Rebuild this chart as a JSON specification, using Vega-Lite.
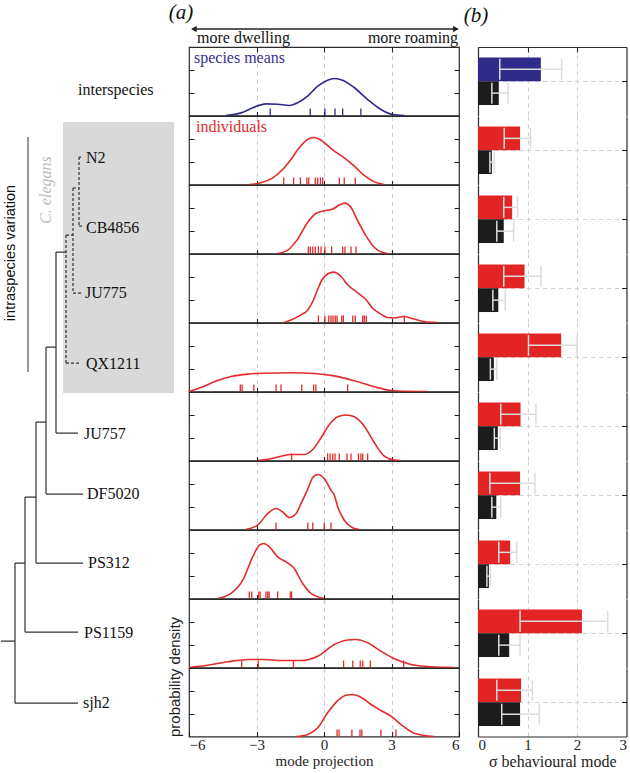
{
  "$schema": "https://vega.github.io/schema/vega-lite/v6.json",
  "padding": 0,
  "background": "white",
  "columns": 3,
  "spacing": {"row": 0, "column": 19},
  "bounds": "flush",
  "align": "each",
  "datasets": {
    "density": [
      {"s":"interspecies","x":-4.36,"d":0},{"s":"interspecies","x":-3.69,"d":0.023},{"s":"interspecies","x":-3.17,"d":0.067},{"s":"interspecies","x":-2.58,"d":0.102},{"s":"interspecies","x":-2.06,"d":0.099},{"s":"interspecies","x":-1.54,"d":0.088},{"s":"interspecies","x":-1.17,"d":0.111},{"s":"interspecies","x":-0.73,"d":0.169},{"s":"interspecies","x":-0.28,"d":0.257},{"s":"interspecies","x":0.16,"d":0.309},{"s":"interspecies","x":0.46,"d":0.324},{"s":"interspecies","x":0.83,"d":0.309},{"s":"interspecies","x":1.35,"d":0.243},{"s":"interspecies","x":1.94,"d":0.14},{"s":"interspecies","x":2.53,"d":0.053},{"s":"interspecies","x":3.05,"d":0.009},{"s":"interspecies","x":3.57,"d":0},
      {"s":"N2","x":-3.32,"d":0},{"s":"N2","x":-2.8,"d":0.015},{"s":"N2","x":-2.28,"d":0.058},{"s":"N2","x":-1.84,"d":0.131},{"s":"N2","x":-1.47,"d":0.219},{"s":"N2","x":-1.1,"d":0.321},{"s":"N2","x":-0.73,"d":0.394},{"s":"N2","x":-0.43,"d":0.412},{"s":"N2","x":-0.13,"d":0.388},{"s":"N2","x":0.16,"d":0.342},{"s":"N2","x":0.46,"d":0.292},{"s":"N2","x":0.9,"d":0.234},{"s":"N2","x":1.35,"d":0.161},{"s":"N2","x":1.79,"d":0.079},{"s":"N2","x":2.24,"d":0.023},{"s":"N2","x":2.68,"d":0},
      {"s":"CB4856","x":-2.06,"d":0},{"s":"CB4856","x":-1.61,"d":0.03},{"s":"CB4856","x":-1.17,"d":0.126},{"s":"CB4856","x":-0.73,"d":0.272},{"s":"CB4856","x":-0.36,"d":0.35},{"s":"CB4856","x":0.01,"d":0.374},{"s":"CB4856","x":0.39,"d":0.389},{"s":"CB4856","x":0.68,"d":0.424},{"s":"CB4856","x":0.93,"d":0.441},{"s":"CB4856","x":1.2,"d":0.403},{"s":"CB4856","x":1.5,"d":0.286},{"s":"CB4856","x":1.87,"d":0.155},{"s":"CB4856","x":2.24,"d":0.053},{"s":"CB4856","x":2.61,"d":0.009},{"s":"CB4856","x":2.83,"d":0},
      {"s":"JU775","x":-1.76,"d":0},{"s":"JU775","x":-1.02,"d":0.067},{"s":"JU775","x":-0.72,"d":0.11},{"s":"JU775","x":-0.5,"d":0.184},{"s":"JU775","x":-0.3,"d":0.28},{"s":"JU775","x":-0.1,"d":0.37},{"s":"JU775","x":0.16,"d":0.425},{"s":"JU775","x":0.43,"d":0.441},{"s":"JU775","x":0.76,"d":0.403},{"s":"JU775","x":1.05,"d":0.33},{"s":"JU775","x":1.5,"d":0.26},{"s":"JU775","x":1.87,"d":0.2},{"s":"JU775","x":2.16,"d":0.125},{"s":"JU775","x":2.39,"d":0.09},{"s":"JU775","x":2.83,"d":0.044},{"s":"JU775","x":3.12,"d":0.04},{"s":"JU775","x":3.54,"d":0.053},{"s":"JU775","x":4.01,"d":0.03},{"s":"JU775","x":4.61,"d":0.003},{"s":"JU775","x":5.05,"d":0},
      {"s":"QX1211","x":-6,"d":0},{"s":"QX1211","x":-5.47,"d":0.035},{"s":"QX1211","x":-4.88,"d":0.085},{"s":"QX1211","x":-4.13,"d":0.131},{"s":"QX1211","x":-3.39,"d":0.152},{"s":"QX1211","x":-2.65,"d":0.16},{"s":"QX1211","x":-1.47,"d":0.164},{"s":"QX1211","x":-0.43,"d":0.158},{"s":"QX1211","x":0.46,"d":0.137},{"s":"QX1211","x":1.35,"d":0.094},{"s":"QX1211","x":2.24,"d":0.041},{"s":"QX1211","x":2.98,"d":0.009},{"s":"QX1211","x":3.72,"d":0.002},{"s":"QX1211","x":4.61,"d":0},
      {"s":"JU757","x":-2.95,"d":0},{"s":"JU757","x":-2.36,"d":0.015},{"s":"JU757","x":-1.91,"d":0.038},{"s":"JU757","x":-1.47,"d":0.053},{"s":"JU757","x":-0.87,"d":0.053},{"s":"JU757","x":-0.5,"d":0.096},{"s":"JU757","x":-0.13,"d":0.199},{"s":"JU757","x":0.24,"d":0.315},{"s":"JU757","x":0.61,"d":0.383},{"s":"JU757","x":0.98,"d":0.398},{"s":"JU757","x":1.35,"d":0.383},{"s":"JU757","x":1.79,"d":0.301},{"s":"JU757","x":2.24,"d":0.155},{"s":"JU757","x":2.68,"d":0.038},{"s":"JU757","x":3.13,"d":0.003},{"s":"JU757","x":3.4,"d":0},
      {"s":"DF5020","x":-3.47,"d":0},{"s":"DF5020","x":-2.95,"d":0.038},{"s":"DF5020","x":-2.5,"d":0.14},{"s":"DF5020","x":-2.13,"d":0.184},{"s":"DF5020","x":-1.84,"d":0.155},{"s":"DF5020","x":-1.54,"d":0.105},{"s":"DF5020","x":-1.24,"d":0.14},{"s":"DF5020","x":-1.02,"d":0.228},{"s":"DF5020","x":-0.75,"d":0.34},{"s":"DF5020","x":-0.5,"d":0.455},{"s":"DF5020","x":-0.28,"d":0.482},{"s":"DF5020","x":0.01,"d":0.447},{"s":"DF5020","x":0.31,"d":0.344},{"s":"DF5020","x":0.46,"d":0.3},{"s":"DF5020","x":0.61,"d":0.199},{"s":"DF5020","x":0.9,"d":0.081},{"s":"DF5020","x":1.27,"d":0.015},{"s":"DF5020","x":1.57,"d":0},
      {"s":"PS312","x":-4.72,"d":0},{"s":"PS312","x":-4.13,"d":0.044},{"s":"PS312","x":-3.61,"d":0.16},{"s":"PS312","x":-3.17,"d":0.365},{"s":"PS312","x":-2.87,"d":0.467},{"s":"PS312","x":-2.68,"d":0.482},{"s":"PS312","x":-2.43,"d":0.453},{"s":"PS312","x":-2.06,"d":0.365},{"s":"PS312","x":-1.69,"d":0.321},{"s":"PS312","x":-1.32,"d":0.263},{"s":"PS312","x":-0.95,"d":0.131},{"s":"PS312","x":-0.58,"d":0.044},{"s":"PS312","x":-0.13,"d":0.006},{"s":"PS312","x":0.01,"d":0},
      {"s":"PS1159","x":-6,"d":0},{"s":"PS1159","x":-5.17,"d":0.02},{"s":"PS1159","x":-4.28,"d":0.05},{"s":"PS1159","x":-3.39,"d":0.07},{"s":"PS1159","x":-2.65,"d":0.07},{"s":"PS1159","x":-1.91,"d":0.061},{"s":"PS1159","x":-1.02,"d":0.061},{"s":"PS1159","x":-0.28,"d":0.099},{"s":"PS1159","x":0.46,"d":0.201},{"s":"PS1159","x":0.98,"d":0.239},{"s":"PS1159","x":1.42,"d":0.245},{"s":"PS1159","x":1.94,"d":0.216},{"s":"PS1159","x":2.53,"d":0.143},{"s":"PS1159","x":3.13,"d":0.076},{"s":"PS1159","x":3.87,"d":0.026},{"s":"PS1159","x":4.76,"d":0.006},{"s":"PS1159","x":5.79,"d":0},
      {"s":"sjh2","x":-1.24,"d":0},{"s":"sjh2","x":-0.72,"d":0.018},{"s":"sjh2","x":-0.28,"d":0.076},{"s":"sjh2","x":0.16,"d":0.208},{"s":"sjh2","x":0.61,"d":0.315},{"s":"sjh2","x":0.98,"d":0.362},{"s":"sjh2","x":1.27,"d":0.368},{"s":"sjh2","x":1.64,"d":0.344},{"s":"sjh2","x":2.09,"d":0.28},{"s":"sjh2","x":2.53,"d":0.228},{"s":"sjh2","x":2.98,"d":0.178},{"s":"sjh2","x":3.42,"d":0.105},{"s":"sjh2","x":4.01,"d":0.029},{"s":"sjh2","x":4.9,"d":0}
    ],
    "rug": [
      {"s":"interspecies","x":-2.39},{"s":"interspecies","x":-0.61},{"s":"interspecies","x":0.04},{"s":"interspecies","x":0.49},{"s":"interspecies","x":0.83},{"s":"interspecies","x":1.64},
      {"s":"N2","x":-1.79},{"s":"N2","x":-1.35},{"s":"N2","x":-1.05},{"s":"N2","x":-0.76},{"s":"N2","x":-0.68},{"s":"N2","x":-0.39},{"s":"N2","x":-0.28},{"s":"N2","x":-0.16},{"s":"N2","x":-0.06},{"s":"N2","x":0.68},{"s":"N2","x":0.9},{"s":"N2","x":1.39},
      {"s":"CB4856","x":-0.7},{"s":"CB4856","x":-0.61},{"s":"CB4856","x":-0.5},{"s":"CB4856","x":-0.39},{"s":"CB4856","x":-0.25},{"s":"CB4856","x":-0.13},{"s":"CB4856","x":0.04},{"s":"CB4856","x":0.34},{"s":"CB4856","x":0.83},{"s":"CB4856","x":0.93},{"s":"CB4856","x":1.2},{"s":"CB4856","x":1.42},
      {"s":"JU775","x":-0.25},{"s":"JU775","x":0.04},{"s":"JU775","x":0.21},{"s":"JU775","x":0.31},{"s":"JU775","x":0.4},{"s":"JU775","x":0.5},{"s":"JU775","x":0.58},{"s":"JU775","x":0.79},{"s":"JU775","x":0.86},{"s":"JU775","x":1.28},{"s":"JU775","x":1.39},{"s":"JU775","x":1.72},{"s":"JU775","x":1.79},{"s":"JU775","x":1.88},{"s":"JU775","x":3.57},
      {"s":"QX1211","x":-3.72},{"s":"QX1211","x":-3.64},{"s":"QX1211","x":-3.12},{"s":"QX1211","x":-2.13},{"s":"QX1211","x":-1.91},{"s":"QX1211","x":-0.99},{"s":"QX1211","x":-0.46},{"s":"QX1211","x":-0.36},{"s":"QX1211","x":1.05},
      {"s":"JU757","x":-1.44},{"s":"JU757","x":0.16},{"s":"JU757","x":0.27},{"s":"JU757","x":0.39},{"s":"JU757","x":0.49},{"s":"JU757","x":0.68},{"s":"JU757","x":1.02},{"s":"JU757","x":1.2},{"s":"JU757","x":1.53},{"s":"JU757","x":1.64},{"s":"JU757","x":1.72},{"s":"JU757","x":1.94},
      {"s":"DF5020","x":-2.13},{"s":"DF5020","x":-0.72},{"s":"DF5020","x":-0.5},{"s":"DF5020","x":0.01},{"s":"DF5020","x":0.31},
      {"s":"PS312","x":-3.32},{"s":"PS312","x":-3.21},{"s":"PS312","x":-2.9},{"s":"PS312","x":-2.84},{"s":"PS312","x":-2.58},{"s":"PS312","x":-2.5},{"s":"PS312","x":-2.44},{"s":"PS312","x":-2.06},{"s":"PS312","x":-1.5},{"s":"PS312","x":-1.44},
      {"s":"PS1159","x":-3.66},{"s":"PS1159","x":-2.92},{"s":"PS1159","x":-1.36},{"s":"PS1159","x":0.87},{"s":"PS1159","x":1.28},{"s":"PS1159","x":1.61},{"s":"PS1159","x":1.72},{"s":"PS1159","x":2.06},{"s":"PS1159","x":3.54},
      {"s":"sjh2","x":0.58},{"s":"sjh2","x":0.67},{"s":"sjh2","x":1.24},{"s":"sjh2","x":1.6},{"s":"sjh2","x":1.68},{"s":"sjh2","x":2.53},{"s":"sjh2","x":3.2}
    ],
    "bars": [
      {"s":"interspecies","scope":"across","level":"species","v":1.27,"lo":0.44,"hi":1.69},
      {"s":"interspecies","scope":"within","level":"within","v":0.42,"lo":0.28,"hi":0.61},
      {"s":"N2","scope":"across","level":"individual","v":0.85,"lo":0.53,"hi":1.06},
      {"s":"N2","scope":"within","level":"within","v":0.28,"lo":0.24,"hi":0.33},
      {"s":"CB4856","scope":"across","level":"individual","v":0.69,"lo":0.52,"hi":0.8},
      {"s":"CB4856","scope":"within","level":"within","v":0.52,"lo":0.38,"hi":0.72},
      {"s":"JU775","scope":"across","level":"individual","v":0.94,"lo":0.52,"hi":1.27},
      {"s":"JU775","scope":"within","level":"within","v":0.41,"lo":0.3,"hi":0.55},
      {"s":"QX1211","scope":"across","level":"individual","v":1.68,"lo":1.02,"hi":2.0},
      {"s":"QX1211","scope":"within","level":"within","v":0.32,"lo":0.25,"hi":0.38},
      {"s":"JU757","scope":"across","level":"individual","v":0.86,"lo":0.46,"hi":1.17},
      {"s":"JU757","scope":"within","level":"within","v":0.4,"lo":0.33,"hi":0.45},
      {"s":"DF5020","scope":"across","level":"individual","v":0.85,"lo":0.24,"hi":1.15},
      {"s":"DF5020","scope":"within","level":"within","v":0.37,"lo":0.28,"hi":0.46},
      {"s":"PS312","scope":"across","level":"individual","v":0.65,"lo":0.42,"hi":0.78},
      {"s":"PS312","scope":"within","level":"within","v":0.22,"lo":0.18,"hi":0.25},
      {"s":"PS1159","scope":"across","level":"individual","v":2.1,"lo":0.85,"hi":2.62},
      {"s":"PS1159","scope":"within","level":"within","v":0.63,"lo":0.42,"hi":0.85},
      {"s":"sjh2","scope":"across","level":"individual","v":0.87,"lo":0.38,"hi":1.1},
      {"s":"sjh2","scope":"within","level":"within","v":0.85,"lo":0.48,"hi":1.24}
    ],
    "tree": [
      {"x":0,"x2":1.4,"y":8.672,"y2":8.672,"line":"solid"},
      {"x":1.4,"x2":1.4,"y":7.533,"y2":9.577,"line":"solid"},
      {"x":1.4,"x2":7.7,"y":9.577,"y2":9.577,"line":"solid"},
      {"x":1.4,"x2":2.4,"y":7.533,"y2":7.533,"line":"solid"},
      {"x":2.4,"x2":2.4,"y":6.569,"y2":8.54,"line":"solid"},
      {"x":2.4,"x2":7.7,"y":8.54,"y2":8.54,"line":"solid"},
      {"x":2.4,"x2":3.5,"y":6.569,"y2":6.569,"line":"solid"},
      {"x":3.5,"x2":3.5,"y":5.474,"y2":7.533,"line":"solid"},
      {"x":3.5,"x2":8.2,"y":7.533,"y2":7.533,"line":"solid"},
      {"x":3.5,"x2":4.5,"y":5.474,"y2":5.474,"line":"solid"},
      {"x":4.5,"x2":4.5,"y":4.38,"y2":6.526,"line":"solid"},
      {"x":4.5,"x2":8.2,"y":6.526,"y2":6.526,"line":"solid"},
      {"x":4.5,"x2":5.5,"y":4.38,"y2":4.38,"line":"solid"},
      {"x":5.5,"x2":5.5,"y":2.993,"y2":5.635,"line":"solid"},
      {"x":5.5,"x2":7.7,"y":5.635,"y2":5.635,"line":"solid"},
      {"x":5.5,"x2":6.5,"y":2.993,"y2":2.993,"line":"solid"},
      {"x":6.5,"x2":6.5,"y":2.745,"y2":4.613,"line":"dashed"},
      {"x":6.5,"x2":8.0,"y":4.613,"y2":4.613,"line":"dashed"},
      {"x":6.5,"x2":7.2,"y":2.745,"y2":2.745,"line":"dashed"},
      {"x":7.2,"x2":7.2,"y":2.058,"y2":3.591,"line":"dashed"},
      {"x":7.2,"x2":8.0,"y":3.591,"y2":3.591,"line":"dashed"},
      {"x":7.2,"x2":7.8,"y":2.058,"y2":2.058,"line":"dashed"},
      {"x":7.8,"x2":7.8,"y":1.606,"y2":2.613,"line":"dashed"},
      {"x":7.8,"x2":8.0,"y":1.606,"y2":1.606,"line":"dashed"},
      {"x":7.8,"x2":8.2,"y":2.613,"y2":2.613,"line":"dashed"}
    ],
    "leaves": [
      {"s":"interspecies","lx":7.7,"ly":0.628},
      {"s":"N2","lx":8.5,"ly":1.62},
      {"s":"CB4856","lx":8.5,"ly":2.64},
      {"s":"JU775","lx":8.4,"ly":3.59},
      {"s":"QX1211","lx":8.5,"ly":4.63},
      {"s":"JU757","lx":8.3,"ly":5.65},
      {"s":"DF5020","lx":8.6,"ly":6.53},
      {"s":"PS312","lx":8.7,"ly":7.53},
      {"s":"PS1159","lx":8.3,"ly":8.55},
      {"s":"sjh2","lx":8.2,"ly":9.58}
    ]
  },
  "concat": [
    {
      "width": 169, "height": 47, "view": {"stroke": null},
      "layer": [
        {"data": {"values": [{}]}, "mark": {"type": "rect", "color": "#d9d9d9"},
         "encoding": {"x": {"datum": 6.2, "type": "quantitative", "scale": {"domain": [0, 16.9]}, "axis": null}, "x2": {"datum": 17.3},
                      "y": {"datum": 1.095, "type": "quantitative", "scale": {"domain": [-0.686, 0], "reverse": true}, "axis": null}, "y2": {"datum": 5.051}}},
        {"data": {"name": "tree"}, "mark": {"type": "rule", "color": "#333333", "strokeWidth": 1.2},
         "encoding": {"x": {"field": "x", "type": "quantitative", "scale": {"domain": [0, 16.9]}, "axis": null}, "x2": {"field": "x2"},
                      "y": {"field": "y", "type": "quantitative", "scale": {"domain": [-0.686, 0], "reverse": true}, "axis": null}, "y2": {"field": "y2"},
                      "strokeDash": {"field": "line", "type": "nominal", "scale": {"domain": ["solid", "dashed"], "range": [[1, 0], [3, 2]]}, "legend": null}}},
        {"data": {"name": "leaves"}, "mark": {"type": "text", "align": "left", "baseline": "middle", "fontSize": 16, "font": "Liberation Serif", "color": "#111111"},
         "encoding": {"x": {"field": "lx", "type": "quantitative", "scale": {"domain": [0, 16.9]}, "axis": null},
                      "y": {"field": "ly", "type": "quantitative", "scale": {"domain": [-0.686, 0], "reverse": true}, "axis": null},
                      "text": {"field": "s"}}},
        {"data": {"values": [{}]}, "mark": {"type": "text", "text": "C. elegans", "angle": 270, "align": "center", "baseline": "middle", "fontSize": 16, "fontStyle": "italic", "font": "Liberation Serif", "color": "#bdbdbd"},
         "encoding": {"x": {"datum": 4.45, "type": "quantitative", "scale": {"domain": [0, 16.9]}, "axis": null},
                      "y": {"datum": 2.088, "type": "quantitative", "scale": {"domain": [-0.686, 0], "reverse": true}, "axis": null}}},
        {"data": {"values": [{}]}, "mark": {"type": "text", "text": "intraspecies variation", "angle": 270, "align": "center", "baseline": "middle", "fontSize": 14.5, "font": "Liberation Sans", "color": "#111111"},
         "encoding": {"x": {"datum": 1.0, "type": "quantitative", "scale": {"domain": [0, 16.9]}, "axis": null},
                      "y": {"datum": 3.007, "type": "quantitative", "scale": {"domain": [-0.686, 0], "reverse": true}, "axis": null}}},
        {"data": {"values": [{}]}, "mark": {"type": "rule", "color": "#555555", "strokeWidth": 1.2},
         "encoding": {"x": {"datum": 2.7, "type": "quantitative", "scale": {"domain": [0, 16.9]}, "axis": null},
                      "y": {"datum": 1.314, "type": "quantitative", "scale": {"domain": [-0.686, 0], "reverse": true}, "axis": null}, "y2": {"datum": 4.745}}}
      ]
    },
    {
      "width": 270, "height": 47, "view": {"stroke": null},
      "data": {"values": [{}]},
      "layer": [
        {"mark": {"type": "rule", "color": "#222222", "strokeWidth": 1.3},
         "encoding": {"x": {"datum": -5.85, "type": "quantitative", "scale": {"domain": [-6, 6]}, "axis": null}, "x2": {"datum": 5.95},
                      "y": {"datum": 0.383, "type": "quantitative", "scale": {"domain": [0, 1]}, "axis": null}}},
        {"mark": {"type": "point", "shape": "triangle-left", "filled": true, "color": "#222222", "size": 40, "opacity": 1},
         "encoding": {"x": {"datum": -5.78, "type": "quantitative", "scale": {"domain": [-6, 6]}, "axis": null},
                      "y": {"datum": 0.383, "type": "quantitative", "scale": {"domain": [0, 1]}, "axis": null}}},
        {"mark": {"type": "point", "shape": "triangle-right", "filled": true, "color": "#222222", "size": 40, "opacity": 1},
         "encoding": {"x": {"datum": 5.86, "type": "quantitative", "scale": {"domain": [-6, 6]}, "axis": null},
                      "y": {"datum": 0.383, "type": "quantitative", "scale": {"domain": [0, 1]}, "axis": null}}},
        {"mark": {"type": "text", "text": "more dwelling", "align": "left", "baseline": "alphabetic", "fontSize": 16, "font": "Liberation Serif", "color": "#111111"},
         "encoding": {"x": {"datum": -5.64, "type": "quantitative", "scale": {"domain": [-6, 6]}, "axis": null},
                      "y": {"datum": 0.085, "type": "quantitative", "scale": {"domain": [0, 1]}, "axis": null}}},
        {"mark": {"type": "text", "text": "more roaming", "align": "right", "baseline": "alphabetic", "fontSize": 16, "font": "Liberation Serif", "color": "#111111"},
         "encoding": {"x": {"datum": 5.96, "type": "quantitative", "scale": {"domain": [-6, 6]}, "axis": null},
                      "y": {"datum": 0.085, "type": "quantitative", "scale": {"domain": [0, 1]}, "axis": null}}},
        {"mark": {"type": "text", "text": "(a)", "align": "center", "baseline": "middle", "fontSize": 21, "fontStyle": "italic", "font": "Liberation Serif", "color": "#111111"},
         "encoding": {"x": {"datum": -6.36, "type": "quantitative", "scale": {"domain": [-6, 6]}, "axis": null},
                      "y": {"datum": 0.734, "type": "quantitative", "scale": {"domain": [0, 1]}, "axis": null}}}
      ]
    },
    {
      "width": 148.5, "height": 47, "view": {"stroke": null},
      "data": {"values": [{}]},
      "mark": {"type": "text", "text": "(b)", "align": "center", "baseline": "middle", "fontSize": 21, "fontStyle": "italic", "font": "Liberation Serif", "color": "#111111"},
      "encoding": {"x": {"datum": -0.04, "type": "quantitative", "scale": {"domain": [0, 3]}, "axis": null},
                   "y": {"datum": 0.649, "type": "quantitative", "scale": {"domain": [0, 1]}, "axis": null}}
    },

    {"width": 169, "height": 68.5, "view": {"stroke": null}, "data": {"values": []}, "mark": "point"},
    {
      "width": 270, "height": 68.5,
      "layer": [
        {"data": {"name": "density"}, "transform": [{"filter": "datum.s === 'interspecies'"}],
         "mark": {"type": "line", "color": "#2f2b88", "strokeWidth": 1.6, "interpolate": "monotone"},
         "encoding": {"x": {"field": "x", "type": "quantitative", "scale": {"domain": [-6, 6]}, "axis": {"orient": "bottom", "values": [-3, 0, 3], "labels": false, "domain": false, "grid": false, "tickSize": 8, "offset": -4, "title": null}},
                      "y": {"field": "d", "type": "quantitative", "scale": {"domain": [0, 0.6]}, "axis": {"orient": "left", "values": [0.2, 0.4], "labels": false, "domain": false, "grid": false, "tickSize": 5, "offset": -5, "title": null}}}},
        {"data": {"name": "rug"}, "transform": [{"filter": "datum.s === 'interspecies'"}],
         "mark": {"type": "rule", "color": "#2f2b88", "strokeWidth": 1.3},
         "encoding": {"x": {"field": "x", "type": "quantitative", "scale": {"domain": [-6, 6]}, "axis": {"orient": "top", "values": [-3, 0, 3], "labels": false, "domain": false, "ticks": false, "grid": true, "gridDash": [4, 4], "gridColor": "#cccccc", "title": null}},
                      "y": {"datum": 0, "type": "quantitative", "scale": {"domain": [0, 0.6]}, "axis": {"orient": "right", "values": [0.2, 0.4], "labels": false, "domain": false, "grid": false, "tickSize": 5, "offset": -5, "title": null}},
                      "y2": {"datum": 0.062}}},
        {"data": {"values": [{}]},
         "mark": {"type": "text", "text": "species means", "align": "left", "baseline": "middle", "fontSize": 16, "font": "Liberation Serif", "color": "#37338f"},
         "encoding": {"x": {"datum": -5.78, "type": "quantitative", "scale": {"domain": [-6, 6]}, "axis": {"orient": "top", "values": [-3, 0, 3], "labels": false, "domain": false, "grid": false, "tickSize": 5, "offset": -5, "title": null}},
                      "y": {"datum": 0.508, "type": "quantitative", "scale": {"domain": [0, 0.6]}, "axis": null}}}
      ],
      "resolve": {"axis": {"x": "independent", "y": "independent"}}
    },
    {
      "width": 148.5, "height": 68.5, "view": {"stroke": null},
      "data": {"name": "bars"}, "transform": [{"filter": "datum.s === 'interspecies'"}],
      "layer": [
        {"mark": {"type": "bar"},
         "encoding": {"x": {"field": "v", "type": "quantitative", "scale": {"domain": [0, 3]}, "axis": null},
                      "y": {"field": "scope", "type": "nominal", "scale": {"domain": ["across", "within"], "paddingInner": 0, "paddingOuter": 0.44}, "axis": {"orient": "left", "labels": false, "ticks": false, "domain": true, "grid": false, "title": null}},
                      "color": {"field": "level", "type": "nominal", "scale": {"domain": ["species", "individual", "within"], "range": ["#2f2b88", "#e32424", "#1c1c1c"]}, "legend": null}}},
        {"mark": {"type": "rule", "color": "#dcdcdc", "strokeWidth": 1.5},
         "encoding": {"x": {"field": "lo", "type": "quantitative", "scale": {"domain": [0, 3]}, "axis": {"orient": "top", "values": [1, 2], "labels": false, "ticks": true, "tickSize": -5, "domain": true, "grid": true, "gridDash": [4, 4], "gridColor": "#cfcfcf", "title": null}}, "x2": {"field": "hi"},
                      "y": {"field": "scope", "type": "nominal", "scale": {"domain": ["across", "within"], "paddingInner": 0, "paddingOuter": 0.44}, "axis": null}}},
        {"mark": {"type": "tick", "color": "#dcdcdc", "thickness": 1.5, "size": 21, "opacity": 1},
         "encoding": {"x": {"field": "lo", "type": "quantitative", "scale": {"domain": [0, 3]}, "axis": null},
                      "y": {"field": "scope", "type": "nominal", "scale": {"domain": ["across", "within"], "paddingInner": 0, "paddingOuter": 0.44}, "axis": null}}},
        {"mark": {"type": "tick", "color": "#dcdcdc", "thickness": 1.5, "size": 21, "opacity": 1},
         "encoding": {"x": {"field": "hi", "type": "quantitative", "scale": {"domain": [0, 3]}, "axis": null},
                      "y": {"field": "scope", "type": "nominal", "scale": {"domain": ["across", "within"], "paddingInner": 0, "paddingOuter": 0.44}, "axis": null}}},
        {"mark": {"type": "point", "opacity": 0},
         "encoding": {"y": {"datum": 0.5, "type": "quantitative", "scale": {"domain": [0, 1]}, "axis": {"orient": "right", "values": [0.5], "labels": false, "domain": true, "ticks": true, "tickSize": -5, "grid": true, "gridDash": [4, 4], "gridColor": "#cfcfcf", "title": null}}}}
      ],
      "resolve": {"scale": {"y": "independent"}, "axis": {"x": "independent", "y": "independent"}}
    },

    {"width": 169, "height": 68.5, "view": {"stroke": null}, "data": {"values": []}, "mark": "point"},
    {
      "width": 270, "height": 68.5,
      "layer": [
        {"data": {"name": "density"}, "transform": [{"filter": "datum.s === 'N2'"}],
         "mark": {"type": "line", "color": "#e32b2b", "strokeWidth": 1.6, "interpolate": "monotone"},
         "encoding": {"x": {"field": "x", "type": "quantitative", "scale": {"domain": [-6, 6]}, "axis": {"orient": "bottom", "values": [-3, 0, 3], "labels": false, "domain": false, "grid": false, "tickSize": 8, "offset": -4, "title": null}},
                      "y": {"field": "d", "type": "quantitative", "scale": {"domain": [0, 0.6]}, "axis": {"orient": "left", "values": [0.2, 0.4], "labels": false, "domain": false, "grid": false, "tickSize": 5, "offset": -5, "title": null}}}},
        {"data": {"name": "rug"}, "transform": [{"filter": "datum.s === 'N2'"}],
         "mark": {"type": "rule", "color": "#e32b2b", "strokeWidth": 1.3},
         "encoding": {"x": {"field": "x", "type": "quantitative", "scale": {"domain": [-6, 6]}, "axis": {"orient": "top", "values": [-3, 0, 3], "labels": false, "domain": false, "ticks": false, "grid": true, "gridDash": [4, 4], "gridColor": "#cccccc", "title": null}},
                      "y": {"datum": 0, "type": "quantitative", "scale": {"domain": [0, 0.6]}, "axis": {"orient": "right", "values": [0.2, 0.4], "labels": false, "domain": false, "grid": false, "tickSize": 5, "offset": -5, "title": null}},
                      "y2": {"datum": 0.062}}},
        {"data": {"values": [{}]},
         "mark": {"type": "text", "text": "individuals", "align": "left", "baseline": "middle", "fontSize": 16, "font": "Liberation Serif", "color": "#e32b2b"},
         "encoding": {"x": {"datum": -5.69, "type": "quantitative", "scale": {"domain": [-6, 6]}, "axis": null},
                      "y": {"datum": 0.508, "type": "quantitative", "scale": {"domain": [0, 0.6]}, "axis": null}}}
      ],
      "resolve": {"axis": {"x": "independent", "y": "independent"}}
    },
    {
      "width": 148.5, "height": 68.5, "view": {"stroke": null},
      "data": {"name": "bars"}, "transform": [{"filter": "datum.s === 'N2'"}],
      "layer": [
        {"mark": {"type": "bar"},
         "encoding": {"x": {"field": "v", "type": "quantitative", "scale": {"domain": [0, 3]}, "axis": null},
                      "y": {"field": "scope", "type": "nominal", "scale": {"domain": ["across", "within"], "paddingInner": 0, "paddingOuter": 0.44}, "axis": {"orient": "left", "labels": false, "ticks": false, "domain": true, "grid": false, "title": null}},
                      "color": {"field": "level", "type": "nominal", "scale": {"domain": ["species", "individual", "within"], "range": ["#2f2b88", "#e32424", "#1c1c1c"]}, "legend": null}}},
        {"mark": {"type": "rule", "color": "#dcdcdc", "strokeWidth": 1.5},
         "encoding": {"x": {"field": "lo", "type": "quantitative", "scale": {"domain": [0, 3]}, "axis": {"orient": "top", "values": [1, 2], "labels": false, "ticks": false, "domain": false, "grid": true, "gridDash": [4, 4], "gridColor": "#cfcfcf", "title": null}}, "x2": {"field": "hi"},
                      "y": {"field": "scope", "type": "nominal", "scale": {"domain": ["across", "within"], "paddingInner": 0, "paddingOuter": 0.44}, "axis": null}}},
        {"mark": {"type": "tick", "color": "#dcdcdc", "thickness": 1.5, "size": 21, "opacity": 1},
         "encoding": {"x": {"field": "lo", "type": "quantitative", "scale": {"domain": [0, 3]}, "axis": null},
                      "y": {"field": "scope", "type": "nominal", "scale": {"domain": ["across", "within"], "paddingInner": 0, "paddingOuter": 0.44}, "axis": null}}},
        {"mark": {"type": "tick", "color": "#dcdcdc", "thickness": 1.5, "size": 21, "opacity": 1},
         "encoding": {"x": {"field": "hi", "type": "quantitative", "scale": {"domain": [0, 3]}, "axis": null},
                      "y": {"field": "scope", "type": "nominal", "scale": {"domain": ["across", "within"], "paddingInner": 0, "paddingOuter": 0.44}, "axis": null}}},
        {"mark": {"type": "point", "opacity": 0},
         "encoding": {"y": {"datum": 0.5, "type": "quantitative", "scale": {"domain": [0, 1]}, "axis": {"orient": "right", "values": [0.5], "labels": false, "domain": true, "ticks": true, "tickSize": -5, "grid": true, "gridDash": [4, 4], "gridColor": "#cfcfcf", "title": null}}}}
      ],
      "resolve": {"scale": {"y": "independent"}, "axis": {"x": "independent", "y": "independent"}}
    },

    {"width": 169, "height": 68.5, "view": {"stroke": null}, "data": {"values": []}, "mark": "point"},
    {
      "width": 270, "height": 68.5,
      "layer": [
        {"data": {"name": "density"}, "transform": [{"filter": "datum.s === 'CB4856'"}],
         "mark": {"type": "line", "color": "#e32b2b", "strokeWidth": 1.6, "interpolate": "monotone"},
         "encoding": {"x": {"field": "x", "type": "quantitative", "scale": {"domain": [-6, 6]}, "axis": {"orient": "bottom", "values": [-3, 0, 3], "labels": false, "domain": false, "grid": false, "tickSize": 8, "offset": -4, "title": null}},
                      "y": {"field": "d", "type": "quantitative", "scale": {"domain": [0, 0.6]}, "axis": {"orient": "left", "values": [0.2, 0.4], "labels": false, "domain": false, "grid": false, "tickSize": 5, "offset": -5, "title": null}}}},
        {"data": {"name": "rug"}, "transform": [{"filter": "datum.s === 'CB4856'"}],
         "mark": {"type": "rule", "color": "#e32b2b", "strokeWidth": 1.3},
         "encoding": {"x": {"field": "x", "type": "quantitative", "scale": {"domain": [-6, 6]}, "axis": {"orient": "top", "values": [-3, 0, 3], "labels": false, "domain": false, "ticks": false, "grid": true, "gridDash": [4, 4], "gridColor": "#cccccc", "title": null}},
                      "y": {"datum": 0, "type": "quantitative", "scale": {"domain": [0, 0.6]}, "axis": {"orient": "right", "values": [0.2, 0.4], "labels": false, "domain": false, "grid": false, "tickSize": 5, "offset": -5, "title": null}},
                      "y2": {"datum": 0.062}}}
      ],
      "resolve": {"axis": {"x": "independent", "y": "independent"}}
    },
    {
      "width": 148.5, "height": 68.5, "view": {"stroke": null},
      "data": {"name": "bars"}, "transform": [{"filter": "datum.s === 'CB4856'"}],
      "layer": [
        {"mark": {"type": "bar"},
         "encoding": {"x": {"field": "v", "type": "quantitative", "scale": {"domain": [0, 3]}, "axis": null},
                      "y": {"field": "scope", "type": "nominal", "scale": {"domain": ["across", "within"], "paddingInner": 0, "paddingOuter": 0.44}, "axis": {"orient": "left", "labels": false, "ticks": false, "domain": true, "grid": false, "title": null}},
                      "color": {"field": "level", "type": "nominal", "scale": {"domain": ["species", "individual", "within"], "range": ["#2f2b88", "#e32424", "#1c1c1c"]}, "legend": null}}},
        {"mark": {"type": "rule", "color": "#dcdcdc", "strokeWidth": 1.5},
         "encoding": {"x": {"field": "lo", "type": "quantitative", "scale": {"domain": [0, 3]}, "axis": {"orient": "top", "values": [1, 2], "labels": false, "ticks": false, "domain": false, "grid": true, "gridDash": [4, 4], "gridColor": "#cfcfcf", "title": null}}, "x2": {"field": "hi"},
                      "y": {"field": "scope", "type": "nominal", "scale": {"domain": ["across", "within"], "paddingInner": 0, "paddingOuter": 0.44}, "axis": null}}},
        {"mark": {"type": "tick", "color": "#dcdcdc", "thickness": 1.5, "size": 21, "opacity": 1},
         "encoding": {"x": {"field": "lo", "type": "quantitative", "scale": {"domain": [0, 3]}, "axis": null},
                      "y": {"field": "scope", "type": "nominal", "scale": {"domain": ["across", "within"], "paddingInner": 0, "paddingOuter": 0.44}, "axis": null}}},
        {"mark": {"type": "tick", "color": "#dcdcdc", "thickness": 1.5, "size": 21, "opacity": 1},
         "encoding": {"x": {"field": "hi", "type": "quantitative", "scale": {"domain": [0, 3]}, "axis": null},
                      "y": {"field": "scope", "type": "nominal", "scale": {"domain": ["across", "within"], "paddingInner": 0, "paddingOuter": 0.44}, "axis": null}}},
        {"mark": {"type": "point", "opacity": 0},
         "encoding": {"y": {"datum": 0.5, "type": "quantitative", "scale": {"domain": [0, 1]}, "axis": {"orient": "right", "values": [0.5], "labels": false, "domain": true, "ticks": true, "tickSize": -5, "grid": true, "gridDash": [4, 4], "gridColor": "#cfcfcf", "title": null}}}}
      ],
      "resolve": {"scale": {"y": "independent"}, "axis": {"x": "independent", "y": "independent"}}
    },

    {"width": 169, "height": 68.5, "view": {"stroke": null}, "data": {"values": []}, "mark": "point"},
    {
      "width": 270, "height": 68.5,
      "layer": [
        {"data": {"name": "density"}, "transform": [{"filter": "datum.s === 'JU775'"}],
         "mark": {"type": "line", "color": "#e32b2b", "strokeWidth": 1.6, "interpolate": "monotone"},
         "encoding": {"x": {"field": "x", "type": "quantitative", "scale": {"domain": [-6, 6]}, "axis": {"orient": "bottom", "values": [-3, 0, 3], "labels": false, "domain": false, "grid": false, "tickSize": 8, "offset": -4, "title": null}},
                      "y": {"field": "d", "type": "quantitative", "scale": {"domain": [0, 0.6]}, "axis": {"orient": "left", "values": [0.2, 0.4], "labels": false, "domain": false, "grid": false, "tickSize": 5, "offset": -5, "title": null}}}},
        {"data": {"name": "rug"}, "transform": [{"filter": "datum.s === 'JU775'"}],
         "mark": {"type": "rule", "color": "#e32b2b", "strokeWidth": 1.3},
         "encoding": {"x": {"field": "x", "type": "quantitative", "scale": {"domain": [-6, 6]}, "axis": {"orient": "top", "values": [-3, 0, 3], "labels": false, "domain": false, "ticks": false, "grid": true, "gridDash": [4, 4], "gridColor": "#cccccc", "title": null}},
                      "y": {"datum": 0, "type": "quantitative", "scale": {"domain": [0, 0.6]}, "axis": {"orient": "right", "values": [0.2, 0.4], "labels": false, "domain": false, "grid": false, "tickSize": 5, "offset": -5, "title": null}},
                      "y2": {"datum": 0.062}}}
      ],
      "resolve": {"axis": {"x": "independent", "y": "independent"}}
    },
    {
      "width": 148.5, "height": 68.5, "view": {"stroke": null},
      "data": {"name": "bars"}, "transform": [{"filter": "datum.s === 'JU775'"}],
      "layer": [
        {"mark": {"type": "bar"},
         "encoding": {"x": {"field": "v", "type": "quantitative", "scale": {"domain": [0, 3]}, "axis": null},
                      "y": {"field": "scope", "type": "nominal", "scale": {"domain": ["across", "within"], "paddingInner": 0, "paddingOuter": 0.44}, "axis": {"orient": "left", "labels": false, "ticks": false, "domain": true, "grid": false, "title": null}},
                      "color": {"field": "level", "type": "nominal", "scale": {"domain": ["species", "individual", "within"], "range": ["#2f2b88", "#e32424", "#1c1c1c"]}, "legend": null}}},
        {"mark": {"type": "rule", "color": "#dcdcdc", "strokeWidth": 1.5},
         "encoding": {"x": {"field": "lo", "type": "quantitative", "scale": {"domain": [0, 3]}, "axis": {"orient": "top", "values": [1, 2], "labels": false, "ticks": false, "domain": false, "grid": true, "gridDash": [4, 4], "gridColor": "#cfcfcf", "title": null}}, "x2": {"field": "hi"},
                      "y": {"field": "scope", "type": "nominal", "scale": {"domain": ["across", "within"], "paddingInner": 0, "paddingOuter": 0.44}, "axis": null}}},
        {"mark": {"type": "tick", "color": "#dcdcdc", "thickness": 1.5, "size": 21, "opacity": 1},
         "encoding": {"x": {"field": "lo", "type": "quantitative", "scale": {"domain": [0, 3]}, "axis": null},
                      "y": {"field": "scope", "type": "nominal", "scale": {"domain": ["across", "within"], "paddingInner": 0, "paddingOuter": 0.44}, "axis": null}}},
        {"mark": {"type": "tick", "color": "#dcdcdc", "thickness": 1.5, "size": 21, "opacity": 1},
         "encoding": {"x": {"field": "hi", "type": "quantitative", "scale": {"domain": [0, 3]}, "axis": null},
                      "y": {"field": "scope", "type": "nominal", "scale": {"domain": ["across", "within"], "paddingInner": 0, "paddingOuter": 0.44}, "axis": null}}},
        {"mark": {"type": "point", "opacity": 0},
         "encoding": {"y": {"datum": 0.5, "type": "quantitative", "scale": {"domain": [0, 1]}, "axis": {"orient": "right", "values": [0.5], "labels": false, "domain": true, "ticks": true, "tickSize": -5, "grid": true, "gridDash": [4, 4], "gridColor": "#cfcfcf", "title": null}}}}
      ],
      "resolve": {"scale": {"y": "independent"}, "axis": {"x": "independent", "y": "independent"}}
    },

    {"width": 169, "height": 68.5, "view": {"stroke": null}, "data": {"values": []}, "mark": "point"},
    {
      "width": 270, "height": 68.5,
      "layer": [
        {"data": {"name": "density"}, "transform": [{"filter": "datum.s === 'QX1211'"}],
         "mark": {"type": "line", "color": "#e32b2b", "strokeWidth": 1.6, "interpolate": "monotone"},
         "encoding": {"x": {"field": "x", "type": "quantitative", "scale": {"domain": [-6, 6]}, "axis": {"orient": "bottom", "values": [-3, 0, 3], "labels": false, "domain": false, "grid": false, "tickSize": 8, "offset": -4, "title": null}},
                      "y": {"field": "d", "type": "quantitative", "scale": {"domain": [0, 0.6]}, "axis": {"orient": "left", "values": [0.2, 0.4], "labels": false, "domain": false, "grid": false, "tickSize": 5, "offset": -5, "title": null}}}},
        {"data": {"name": "rug"}, "transform": [{"filter": "datum.s === 'QX1211'"}],
         "mark": {"type": "rule", "color": "#e32b2b", "strokeWidth": 1.3},
         "encoding": {"x": {"field": "x", "type": "quantitative", "scale": {"domain": [-6, 6]}, "axis": {"orient": "top", "values": [-3, 0, 3], "labels": false, "domain": false, "ticks": false, "grid": true, "gridDash": [4, 4], "gridColor": "#cccccc", "title": null}},
                      "y": {"datum": 0, "type": "quantitative", "scale": {"domain": [0, 0.6]}, "axis": {"orient": "right", "values": [0.2, 0.4], "labels": false, "domain": false, "grid": false, "tickSize": 5, "offset": -5, "title": null}},
                      "y2": {"datum": 0.062}}}
      ],
      "resolve": {"axis": {"x": "independent", "y": "independent"}}
    },
    {
      "width": 148.5, "height": 68.5, "view": {"stroke": null},
      "data": {"name": "bars"}, "transform": [{"filter": "datum.s === 'QX1211'"}],
      "layer": [
        {"mark": {"type": "bar"},
         "encoding": {"x": {"field": "v", "type": "quantitative", "scale": {"domain": [0, 3]}, "axis": null},
                      "y": {"field": "scope", "type": "nominal", "scale": {"domain": ["across", "within"], "paddingInner": 0, "paddingOuter": 0.44}, "axis": {"orient": "left", "labels": false, "ticks": false, "domain": true, "grid": false, "title": null}},
                      "color": {"field": "level", "type": "nominal", "scale": {"domain": ["species", "individual", "within"], "range": ["#2f2b88", "#e32424", "#1c1c1c"]}, "legend": null}}},
        {"mark": {"type": "rule", "color": "#dcdcdc", "strokeWidth": 1.5},
         "encoding": {"x": {"field": "lo", "type": "quantitative", "scale": {"domain": [0, 3]}, "axis": {"orient": "top", "values": [1, 2], "labels": false, "ticks": false, "domain": false, "grid": true, "gridDash": [4, 4], "gridColor": "#cfcfcf", "title": null}}, "x2": {"field": "hi"},
                      "y": {"field": "scope", "type": "nominal", "scale": {"domain": ["across", "within"], "paddingInner": 0, "paddingOuter": 0.44}, "axis": null}}},
        {"mark": {"type": "tick", "color": "#dcdcdc", "thickness": 1.5, "size": 21, "opacity": 1},
         "encoding": {"x": {"field": "lo", "type": "quantitative", "scale": {"domain": [0, 3]}, "axis": null},
                      "y": {"field": "scope", "type": "nominal", "scale": {"domain": ["across", "within"], "paddingInner": 0, "paddingOuter": 0.44}, "axis": null}}},
        {"mark": {"type": "tick", "color": "#dcdcdc", "thickness": 1.5, "size": 21, "opacity": 1},
         "encoding": {"x": {"field": "hi", "type": "quantitative", "scale": {"domain": [0, 3]}, "axis": null},
                      "y": {"field": "scope", "type": "nominal", "scale": {"domain": ["across", "within"], "paddingInner": 0, "paddingOuter": 0.44}, "axis": null}}},
        {"mark": {"type": "point", "opacity": 0},
         "encoding": {"y": {"datum": 0.5, "type": "quantitative", "scale": {"domain": [0, 1]}, "axis": {"orient": "right", "values": [0.5], "labels": false, "domain": true, "ticks": true, "tickSize": -5, "grid": true, "gridDash": [4, 4], "gridColor": "#cfcfcf", "title": null}}}}
      ],
      "resolve": {"scale": {"y": "independent"}, "axis": {"x": "independent", "y": "independent"}}
    },

    {"width": 169, "height": 68.5, "view": {"stroke": null}, "data": {"values": []}, "mark": "point"},
    {
      "width": 270, "height": 68.5,
      "layer": [
        {"data": {"name": "density"}, "transform": [{"filter": "datum.s === 'JU757'"}],
         "mark": {"type": "line", "color": "#e32b2b", "strokeWidth": 1.6, "interpolate": "monotone"},
         "encoding": {"x": {"field": "x", "type": "quantitative", "scale": {"domain": [-6, 6]}, "axis": {"orient": "bottom", "values": [-3, 0, 3], "labels": false, "domain": false, "grid": false, "tickSize": 8, "offset": -4, "title": null}},
                      "y": {"field": "d", "type": "quantitative", "scale": {"domain": [0, 0.6]}, "axis": {"orient": "left", "values": [0.2, 0.4], "labels": false, "domain": false, "grid": false, "tickSize": 5, "offset": -5, "title": null}}}},
        {"data": {"name": "rug"}, "transform": [{"filter": "datum.s === 'JU757'"}],
         "mark": {"type": "rule", "color": "#e32b2b", "strokeWidth": 1.3},
         "encoding": {"x": {"field": "x", "type": "quantitative", "scale": {"domain": [-6, 6]}, "axis": {"orient": "top", "values": [-3, 0, 3], "labels": false, "domain": false, "ticks": false, "grid": true, "gridDash": [4, 4], "gridColor": "#cccccc", "title": null}},
                      "y": {"datum": 0, "type": "quantitative", "scale": {"domain": [0, 0.6]}, "axis": {"orient": "right", "values": [0.2, 0.4], "labels": false, "domain": false, "grid": false, "tickSize": 5, "offset": -5, "title": null}},
                      "y2": {"datum": 0.062}}}
      ],
      "resolve": {"axis": {"x": "independent", "y": "independent"}}
    },
    {
      "width": 148.5, "height": 68.5, "view": {"stroke": null},
      "data": {"name": "bars"}, "transform": [{"filter": "datum.s === 'JU757'"}],
      "layer": [
        {"mark": {"type": "bar"},
         "encoding": {"x": {"field": "v", "type": "quantitative", "scale": {"domain": [0, 3]}, "axis": null},
                      "y": {"field": "scope", "type": "nominal", "scale": {"domain": ["across", "within"], "paddingInner": 0, "paddingOuter": 0.44}, "axis": {"orient": "left", "labels": false, "ticks": false, "domain": true, "grid": false, "title": null}},
                      "color": {"field": "level", "type": "nominal", "scale": {"domain": ["species", "individual", "within"], "range": ["#2f2b88", "#e32424", "#1c1c1c"]}, "legend": null}}},
        {"mark": {"type": "rule", "color": "#dcdcdc", "strokeWidth": 1.5},
         "encoding": {"x": {"field": "lo", "type": "quantitative", "scale": {"domain": [0, 3]}, "axis": {"orient": "top", "values": [1, 2], "labels": false, "ticks": false, "domain": false, "grid": true, "gridDash": [4, 4], "gridColor": "#cfcfcf", "title": null}}, "x2": {"field": "hi"},
                      "y": {"field": "scope", "type": "nominal", "scale": {"domain": ["across", "within"], "paddingInner": 0, "paddingOuter": 0.44}, "axis": null}}},
        {"mark": {"type": "tick", "color": "#dcdcdc", "thickness": 1.5, "size": 21, "opacity": 1},
         "encoding": {"x": {"field": "lo", "type": "quantitative", "scale": {"domain": [0, 3]}, "axis": null},
                      "y": {"field": "scope", "type": "nominal", "scale": {"domain": ["across", "within"], "paddingInner": 0, "paddingOuter": 0.44}, "axis": null}}},
        {"mark": {"type": "tick", "color": "#dcdcdc", "thickness": 1.5, "size": 21, "opacity": 1},
         "encoding": {"x": {"field": "hi", "type": "quantitative", "scale": {"domain": [0, 3]}, "axis": null},
                      "y": {"field": "scope", "type": "nominal", "scale": {"domain": ["across", "within"], "paddingInner": 0, "paddingOuter": 0.44}, "axis": null}}},
        {"mark": {"type": "point", "opacity": 0},
         "encoding": {"y": {"datum": 0.5, "type": "quantitative", "scale": {"domain": [0, 1]}, "axis": {"orient": "right", "values": [0.5], "labels": false, "domain": true, "ticks": true, "tickSize": -5, "grid": true, "gridDash": [4, 4], "gridColor": "#cfcfcf", "title": null}}}}
      ],
      "resolve": {"scale": {"y": "independent"}, "axis": {"x": "independent", "y": "independent"}}
    },

    {"width": 169, "height": 68.5, "view": {"stroke": null}, "data": {"values": []}, "mark": "point"},
    {
      "width": 270, "height": 68.5,
      "layer": [
        {"data": {"name": "density"}, "transform": [{"filter": "datum.s === 'DF5020'"}],
         "mark": {"type": "line", "color": "#e32b2b", "strokeWidth": 1.6, "interpolate": "monotone"},
         "encoding": {"x": {"field": "x", "type": "quantitative", "scale": {"domain": [-6, 6]}, "axis": {"orient": "bottom", "values": [-3, 0, 3], "labels": false, "domain": false, "grid": false, "tickSize": 8, "offset": -4, "title": null}},
                      "y": {"field": "d", "type": "quantitative", "scale": {"domain": [0, 0.6]}, "axis": {"orient": "left", "values": [0.2, 0.4], "labels": false, "domain": false, "grid": false, "tickSize": 5, "offset": -5, "title": null}}}},
        {"data": {"name": "rug"}, "transform": [{"filter": "datum.s === 'DF5020'"}],
         "mark": {"type": "rule", "color": "#e32b2b", "strokeWidth": 1.3},
         "encoding": {"x": {"field": "x", "type": "quantitative", "scale": {"domain": [-6, 6]}, "axis": {"orient": "top", "values": [-3, 0, 3], "labels": false, "domain": false, "ticks": false, "grid": true, "gridDash": [4, 4], "gridColor": "#cccccc", "title": null}},
                      "y": {"datum": 0, "type": "quantitative", "scale": {"domain": [0, 0.6]}, "axis": {"orient": "right", "values": [0.2, 0.4], "labels": false, "domain": false, "grid": false, "tickSize": 5, "offset": -5, "title": null}},
                      "y2": {"datum": 0.062}}}
      ],
      "resolve": {"axis": {"x": "independent", "y": "independent"}}
    },
    {
      "width": 148.5, "height": 68.5, "view": {"stroke": null},
      "data": {"name": "bars"}, "transform": [{"filter": "datum.s === 'DF5020'"}],
      "layer": [
        {"mark": {"type": "bar"},
         "encoding": {"x": {"field": "v", "type": "quantitative", "scale": {"domain": [0, 3]}, "axis": null},
                      "y": {"field": "scope", "type": "nominal", "scale": {"domain": ["across", "within"], "paddingInner": 0, "paddingOuter": 0.44}, "axis": {"orient": "left", "labels": false, "ticks": false, "domain": true, "grid": false, "title": null}},
                      "color": {"field": "level", "type": "nominal", "scale": {"domain": ["species", "individual", "within"], "range": ["#2f2b88", "#e32424", "#1c1c1c"]}, "legend": null}}},
        {"mark": {"type": "rule", "color": "#dcdcdc", "strokeWidth": 1.5},
         "encoding": {"x": {"field": "lo", "type": "quantitative", "scale": {"domain": [0, 3]}, "axis": {"orient": "top", "values": [1, 2], "labels": false, "ticks": false, "domain": false, "grid": true, "gridDash": [4, 4], "gridColor": "#cfcfcf", "title": null}}, "x2": {"field": "hi"},
                      "y": {"field": "scope", "type": "nominal", "scale": {"domain": ["across", "within"], "paddingInner": 0, "paddingOuter": 0.44}, "axis": null}}},
        {"mark": {"type": "tick", "color": "#dcdcdc", "thickness": 1.5, "size": 21, "opacity": 1},
         "encoding": {"x": {"field": "lo", "type": "quantitative", "scale": {"domain": [0, 3]}, "axis": null},
                      "y": {"field": "scope", "type": "nominal", "scale": {"domain": ["across", "within"], "paddingInner": 0, "paddingOuter": 0.44}, "axis": null}}},
        {"mark": {"type": "tick", "color": "#dcdcdc", "thickness": 1.5, "size": 21, "opacity": 1},
         "encoding": {"x": {"field": "hi", "type": "quantitative", "scale": {"domain": [0, 3]}, "axis": null},
                      "y": {"field": "scope", "type": "nominal", "scale": {"domain": ["across", "within"], "paddingInner": 0, "paddingOuter": 0.44}, "axis": null}}},
        {"mark": {"type": "point", "opacity": 0},
         "encoding": {"y": {"datum": 0.5, "type": "quantitative", "scale": {"domain": [0, 1]}, "axis": {"orient": "right", "values": [0.5], "labels": false, "domain": true, "ticks": true, "tickSize": -5, "grid": true, "gridDash": [4, 4], "gridColor": "#cfcfcf", "title": null}}}}
      ],
      "resolve": {"scale": {"y": "independent"}, "axis": {"x": "independent", "y": "independent"}}
    },

    {"width": 169, "height": 68.5, "view": {"stroke": null}, "data": {"values": []}, "mark": "point"},
    {
      "width": 270, "height": 68.5,
      "layer": [
        {"data": {"name": "density"}, "transform": [{"filter": "datum.s === 'PS312'"}],
         "mark": {"type": "line", "color": "#e32b2b", "strokeWidth": 1.6, "interpolate": "monotone"},
         "encoding": {"x": {"field": "x", "type": "quantitative", "scale": {"domain": [-6, 6]}, "axis": {"orient": "bottom", "values": [-3, 0, 3], "labels": false, "domain": false, "grid": false, "tickSize": 8, "offset": -4, "title": null}},
                      "y": {"field": "d", "type": "quantitative", "scale": {"domain": [0, 0.6]}, "axis": {"orient": "left", "values": [0.2, 0.4], "labels": false, "domain": false, "grid": false, "tickSize": 5, "offset": -5, "title": null}}}},
        {"data": {"name": "rug"}, "transform": [{"filter": "datum.s === 'PS312'"}],
         "mark": {"type": "rule", "color": "#e32b2b", "strokeWidth": 1.3},
         "encoding": {"x": {"field": "x", "type": "quantitative", "scale": {"domain": [-6, 6]}, "axis": {"orient": "top", "values": [-3, 0, 3], "labels": false, "domain": false, "ticks": false, "grid": true, "gridDash": [4, 4], "gridColor": "#cccccc", "title": null}},
                      "y": {"datum": 0, "type": "quantitative", "scale": {"domain": [0, 0.6]}, "axis": {"orient": "right", "values": [0.2, 0.4], "labels": false, "domain": false, "grid": false, "tickSize": 5, "offset": -5, "title": null}},
                      "y2": {"datum": 0.062}}}
      ],
      "resolve": {"axis": {"x": "independent", "y": "independent"}}
    },
    {
      "width": 148.5, "height": 68.5, "view": {"stroke": null},
      "data": {"name": "bars"}, "transform": [{"filter": "datum.s === 'PS312'"}],
      "layer": [
        {"mark": {"type": "bar"},
         "encoding": {"x": {"field": "v", "type": "quantitative", "scale": {"domain": [0, 3]}, "axis": null},
                      "y": {"field": "scope", "type": "nominal", "scale": {"domain": ["across", "within"], "paddingInner": 0, "paddingOuter": 0.44}, "axis": {"orient": "left", "labels": false, "ticks": false, "domain": true, "grid": false, "title": null}},
                      "color": {"field": "level", "type": "nominal", "scale": {"domain": ["species", "individual", "within"], "range": ["#2f2b88", "#e32424", "#1c1c1c"]}, "legend": null}}},
        {"mark": {"type": "rule", "color": "#dcdcdc", "strokeWidth": 1.5},
         "encoding": {"x": {"field": "lo", "type": "quantitative", "scale": {"domain": [0, 3]}, "axis": {"orient": "top", "values": [1, 2], "labels": false, "ticks": false, "domain": false, "grid": true, "gridDash": [4, 4], "gridColor": "#cfcfcf", "title": null}}, "x2": {"field": "hi"},
                      "y": {"field": "scope", "type": "nominal", "scale": {"domain": ["across", "within"], "paddingInner": 0, "paddingOuter": 0.44}, "axis": null}}},
        {"mark": {"type": "tick", "color": "#dcdcdc", "thickness": 1.5, "size": 21, "opacity": 1},
         "encoding": {"x": {"field": "lo", "type": "quantitative", "scale": {"domain": [0, 3]}, "axis": null},
                      "y": {"field": "scope", "type": "nominal", "scale": {"domain": ["across", "within"], "paddingInner": 0, "paddingOuter": 0.44}, "axis": null}}},
        {"mark": {"type": "tick", "color": "#dcdcdc", "thickness": 1.5, "size": 21, "opacity": 1},
         "encoding": {"x": {"field": "hi", "type": "quantitative", "scale": {"domain": [0, 3]}, "axis": null},
                      "y": {"field": "scope", "type": "nominal", "scale": {"domain": ["across", "within"], "paddingInner": 0, "paddingOuter": 0.44}, "axis": null}}},
        {"mark": {"type": "point", "opacity": 0},
         "encoding": {"y": {"datum": 0.5, "type": "quantitative", "scale": {"domain": [0, 1]}, "axis": {"orient": "right", "values": [0.5], "labels": false, "domain": true, "ticks": true, "tickSize": -5, "grid": true, "gridDash": [4, 4], "gridColor": "#cfcfcf", "title": null}}}}
      ],
      "resolve": {"scale": {"y": "independent"}, "axis": {"x": "independent", "y": "independent"}}
    },

    {"width": 169, "height": 68.5, "view": {"stroke": null}, "data": {"values": []}, "mark": "point"},
    {
      "width": 270, "height": 68.5,
      "layer": [
        {"data": {"name": "density"}, "transform": [{"filter": "datum.s === 'PS1159'"}],
         "mark": {"type": "line", "color": "#e32b2b", "strokeWidth": 1.6, "interpolate": "monotone"},
         "encoding": {"x": {"field": "x", "type": "quantitative", "scale": {"domain": [-6, 6]}, "axis": {"orient": "bottom", "values": [-3, 0, 3], "labels": false, "domain": false, "grid": false, "tickSize": 8, "offset": -4, "title": null}},
                      "y": {"field": "d", "type": "quantitative", "scale": {"domain": [0, 0.6]}, "axis": {"orient": "left", "values": [0.2, 0.4], "labels": false, "domain": false, "grid": false, "tickSize": 5, "offset": -5, "title": null}}}},
        {"data": {"name": "rug"}, "transform": [{"filter": "datum.s === 'PS1159'"}],
         "mark": {"type": "rule", "color": "#e32b2b", "strokeWidth": 1.3},
         "encoding": {"x": {"field": "x", "type": "quantitative", "scale": {"domain": [-6, 6]}, "axis": {"orient": "top", "values": [-3, 0, 3], "labels": false, "domain": false, "ticks": false, "grid": true, "gridDash": [4, 4], "gridColor": "#cccccc", "title": null}},
                      "y": {"datum": 0, "type": "quantitative", "scale": {"domain": [0, 0.6]}, "axis": {"orient": "right", "values": [0.2, 0.4], "labels": false, "domain": false, "grid": false, "tickSize": 5, "offset": -5, "title": null}},
                      "y2": {"datum": 0.062}}}
      ],
      "resolve": {"axis": {"x": "independent", "y": "independent"}}
    },
    {
      "width": 148.5, "height": 68.5, "view": {"stroke": null},
      "data": {"name": "bars"}, "transform": [{"filter": "datum.s === 'PS1159'"}],
      "layer": [
        {"mark": {"type": "bar"},
         "encoding": {"x": {"field": "v", "type": "quantitative", "scale": {"domain": [0, 3]}, "axis": null},
                      "y": {"field": "scope", "type": "nominal", "scale": {"domain": ["across", "within"], "paddingInner": 0, "paddingOuter": 0.44}, "axis": {"orient": "left", "labels": false, "ticks": false, "domain": true, "grid": false, "title": null}},
                      "color": {"field": "level", "type": "nominal", "scale": {"domain": ["species", "individual", "within"], "range": ["#2f2b88", "#e32424", "#1c1c1c"]}, "legend": null}}},
        {"mark": {"type": "rule", "color": "#dcdcdc", "strokeWidth": 1.5},
         "encoding": {"x": {"field": "lo", "type": "quantitative", "scale": {"domain": [0, 3]}, "axis": {"orient": "top", "values": [1, 2], "labels": false, "ticks": false, "domain": false, "grid": true, "gridDash": [4, 4], "gridColor": "#cfcfcf", "title": null}}, "x2": {"field": "hi"},
                      "y": {"field": "scope", "type": "nominal", "scale": {"domain": ["across", "within"], "paddingInner": 0, "paddingOuter": 0.44}, "axis": null}}},
        {"mark": {"type": "tick", "color": "#dcdcdc", "thickness": 1.5, "size": 21, "opacity": 1},
         "encoding": {"x": {"field": "lo", "type": "quantitative", "scale": {"domain": [0, 3]}, "axis": null},
                      "y": {"field": "scope", "type": "nominal", "scale": {"domain": ["across", "within"], "paddingInner": 0, "paddingOuter": 0.44}, "axis": null}}},
        {"mark": {"type": "tick", "color": "#dcdcdc", "thickness": 1.5, "size": 21, "opacity": 1},
         "encoding": {"x": {"field": "hi", "type": "quantitative", "scale": {"domain": [0, 3]}, "axis": null},
                      "y": {"field": "scope", "type": "nominal", "scale": {"domain": ["across", "within"], "paddingInner": 0, "paddingOuter": 0.44}, "axis": null}}},
        {"mark": {"type": "point", "opacity": 0},
         "encoding": {"y": {"datum": 0.5, "type": "quantitative", "scale": {"domain": [0, 1]}, "axis": {"orient": "right", "values": [0.5], "labels": false, "domain": true, "ticks": true, "tickSize": -5, "grid": true, "gridDash": [4, 4], "gridColor": "#cfcfcf", "title": null}}}}
      ],
      "resolve": {"scale": {"y": "independent"}, "axis": {"x": "independent", "y": "independent"}}
    },

    {"width": 169, "height": 68.5, "view": {"stroke": null}, "data": {"values": []}, "mark": "point"},
    {
      "width": 270, "height": 68.5,
      "layer": [
        {"data": {"name": "density"}, "transform": [{"filter": "datum.s === 'sjh2'"}],
         "mark": {"type": "line", "color": "#e32b2b", "strokeWidth": 1.6, "interpolate": "monotone"},
         "encoding": {"x": {"field": "x", "type": "quantitative", "scale": {"domain": [-6, 6]}, "axis": {"orient": "bottom", "values": [-6, -3, 0, 3, 6], "labels": true, "domain": false, "grid": false, "tickSize": 5, "offset": -5, "labelPadding": 1, "title": "mode projection", "titlePadding": 1}},
                      "y": {"field": "d", "type": "quantitative", "scale": {"domain": [0, 0.6]}, "axis": {"orient": "left", "values": [0.2, 0.4], "labels": false, "domain": false, "grid": false, "tickSize": 5, "offset": -5, "title": "probability density", "titleAnchor": "start", "titleFont": "Liberation Sans", "titleFontSize": 15, "titlePadding": 6}}}},
        {"data": {"name": "rug"}, "transform": [{"filter": "datum.s === 'sjh2'"}],
         "mark": {"type": "rule", "color": "#e32b2b", "strokeWidth": 1.3},
         "encoding": {"x": {"field": "x", "type": "quantitative", "scale": {"domain": [-6, 6]}, "axis": {"orient": "top", "values": [-3, 0, 3], "labels": false, "domain": false, "ticks": false, "grid": true, "gridDash": [4, 4], "gridColor": "#cccccc", "title": null}},
                      "y": {"datum": 0, "type": "quantitative", "scale": {"domain": [0, 0.6]}, "axis": {"orient": "right", "values": [0.2, 0.4], "labels": false, "domain": false, "grid": false, "tickSize": 5, "offset": -5, "title": null}},
                      "y2": {"datum": 0.062}}}
      ],
      "resolve": {"axis": {"x": "independent", "y": "independent"}}
    },
    {
      "width": 148.5, "height": 68.5, "view": {"stroke": null},
      "data": {"name": "bars"}, "transform": [{"filter": "datum.s === 'sjh2'"}],
      "layer": [
        {"mark": {"type": "bar"},
         "encoding": {"x": {"field": "v", "type": "quantitative", "scale": {"domain": [0, 3]}, "axis": {"orient": "bottom", "values": [0, 1, 2, 3], "labels": true, "ticks": false, "domain": true, "grid": false, "labelPadding": 1, "title": "σ behavioural mode", "titleFontSize": 16, "titlePadding": 1}},
                      "y": {"field": "scope", "type": "nominal", "scale": {"domain": ["across", "within"], "paddingInner": 0, "paddingOuter": 0.44}, "axis": {"orient": "left", "labels": false, "ticks": false, "domain": true, "grid": false, "title": null}},
                      "color": {"field": "level", "type": "nominal", "scale": {"domain": ["species", "individual", "within"], "range": ["#2f2b88", "#e32424", "#1c1c1c"]}, "legend": null}}},
        {"mark": {"type": "rule", "color": "#dcdcdc", "strokeWidth": 1.5},
         "encoding": {"x": {"field": "lo", "type": "quantitative", "scale": {"domain": [0, 3]}, "axis": {"orient": "top", "values": [1, 2], "labels": false, "ticks": false, "domain": false, "grid": true, "gridDash": [4, 4], "gridColor": "#cfcfcf", "title": null}}, "x2": {"field": "hi"},
                      "y": {"field": "scope", "type": "nominal", "scale": {"domain": ["across", "within"], "paddingInner": 0, "paddingOuter": 0.44}, "axis": null}}},
        {"mark": {"type": "tick", "color": "#dcdcdc", "thickness": 1.5, "size": 21, "opacity": 1},
         "encoding": {"x": {"field": "lo", "type": "quantitative", "scale": {"domain": [0, 3]}, "axis": null},
                      "y": {"field": "scope", "type": "nominal", "scale": {"domain": ["across", "within"], "paddingInner": 0, "paddingOuter": 0.44}, "axis": null}}},
        {"mark": {"type": "tick", "color": "#dcdcdc", "thickness": 1.5, "size": 21, "opacity": 1},
         "encoding": {"x": {"field": "hi", "type": "quantitative", "scale": {"domain": [0, 3]}, "axis": null},
                      "y": {"field": "scope", "type": "nominal", "scale": {"domain": ["across", "within"], "paddingInner": 0, "paddingOuter": 0.44}, "axis": null}}},
        {"mark": {"type": "point", "opacity": 0},
         "encoding": {"y": {"datum": 0.5, "type": "quantitative", "scale": {"domain": [0, 1]}, "axis": {"orient": "right", "values": [0.5], "labels": false, "domain": true, "ticks": true, "tickSize": -5, "grid": true, "gridDash": [4, 4], "gridColor": "#cfcfcf", "title": null}}}}
      ],
      "resolve": {"scale": {"y": "independent"}, "axis": {"x": "independent", "y": "independent"}}
    }
  ],
  "config": {
    "font": "Liberation Serif",
    "view": {"stroke": "#2b2b2b", "strokeWidth": 1.2},
    "axis": {"labelFont": "Liberation Serif", "labelFontSize": 15, "labelColor": "#222222", "titleFont": "Liberation Serif", "titleFontSize": 15, "titleFontWeight": "normal", "titleColor": "#222222", "tickColor": "#222222", "tickWidth": 1.1, "domainColor": "#2b2b2b", "domainWidth": 1.2}
  }
}
